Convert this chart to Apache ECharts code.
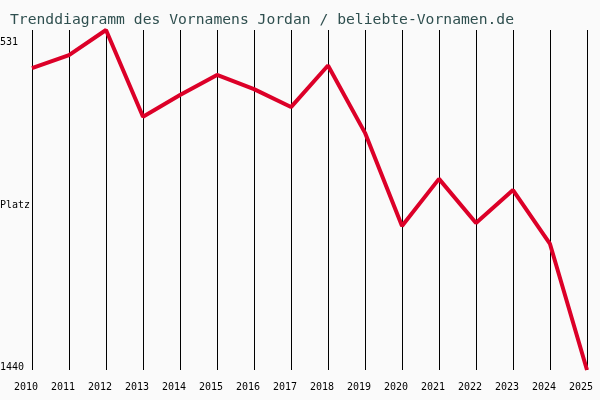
<!DOCTYPE html>
<html>
<head>
<meta charset="utf-8">
<script src="https://cdn.jsdelivr.net/npm/echarts@6/dist/echarts.min.js"></script>
<style>
  html, body { margin: 0; padding: 0; background: #fafafa; }
  #chart { width: 600px; height: 400px; }
</style>
</head>
<body>
<div id="chart"></div>
<script>
// Jahre und Platzierungen (kleinere Zahl = beliebter)
const years = ["2010", "2011", "2012", "2013", "2014", "2015", "2016", "2017",
  "2018", "2019", "2020", "2021", "2022", "2023", "2024", "2025"];
const ranks = [633, 598, 531, 763, 705, 651, 689, 737,
  626, 806, 1055, 929, 1047, 959, 1103, 1440];
const rankMin = 531;
const rankMax = 1440;

const chart = echarts.init(document.getElementById("chart"));

chart.setOption({
  backgroundColor: "#fafafa",
  animation: false,
  title: {
    text: "Trenddiagramm des Vornamens Jordan / beliebte-Vornamen.de",
    left: 5,
    top: 8,
    textStyle: {
      fontFamily: "DejaVu Sans Mono",
      fontSize: 14.7,
      fontWeight: "normal",
      color: "#2f4f4f",
    },
  },
  grid: {
    top: 30,
    left: 32,
    right: 13,
    bottom: 30,
    containLabel: false,
    outerBoundsMode: "none",
  },
  xAxis: {
    type: "category",
    data: years,
    boundaryGap: false,
    axisLine: { show: false },
    axisTick: { show: false },
    axisLabel: {
      margin: 12,
      padding: [0, 12, 0, 0],
      fontFamily: "DejaVu Sans Mono",
      fontSize: 10,
      color: "#000",
    },
    splitLine: {
      show: true,
      lineStyle: { color: "#000", width: 1 },
    },
  },
  yAxis: {
    type: "value",
    inverse: true,
    min: rankMin,
    max: rankMax,
    interval: rankMax - rankMin,
    name: "Platz",
    nameLocation: "middle",
    nameRotate: 0,
    nameGap: 2,
    nameMoveOverlap: false,
    nameTextStyle: {
      fontFamily: "DejaVu Sans Mono",
      fontSize: 10,
      color: "#000",
      verticalAlign: "top",
    },
    axisLine: { show: false },
    axisTick: { show: false },
    splitLine: { show: false },
    axisLabel: {
      margin: 32,
      align: "left",
      fontFamily: "DejaVu Sans Mono",
      fontSize: 10,
      color: "#000",
      formatter: (v) => (v === rankMin ? "{t|" + v + "}" : "{b|" + v + "}"),
      rich: {
        t: { padding: [24, 0, 0, 0], fontFamily: "DejaVu Sans Mono", fontSize: 10, color: "#000" },
        b: { padding: [0, 0, 5, 0], fontFamily: "DejaVu Sans Mono", fontSize: 10, color: "#000" },
      },
    },
  },
  series: [
    {
      type: "line",
      data: ranks,
      showSymbol: false,
      lineStyle: { color: "#dc0028", width: 4 },
    },
  ],
});
</script>
</body>
</html>
